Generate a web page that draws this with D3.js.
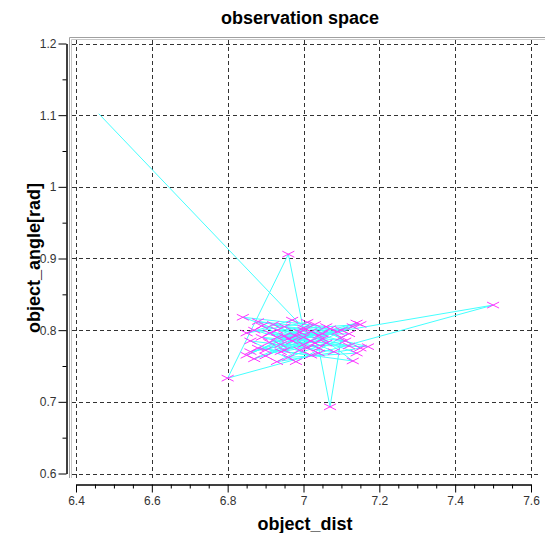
<!DOCTYPE html>
<html>
<head>
<meta charset="utf-8">
<script src="https://cdn.jsdelivr.net/npm/d3@7"></script>
<style>
  body { margin: 0; background: #fff; }
  svg text { font-family: "Liberation Sans", Arial, sans-serif; }
</style>
</head>
<body>
<svg id="chart" width="545" height="533"></svg>
<script>
// trajectory through observation space (first point has no marker)
var objectDist = [6.46, 7.00, 6.93, 7.05, 6.88, 7.10, 6.95, 7.14, 6.86, 7.02,
	6.91, 7.04, 7.07, 7.10, 6.97, 6.85, 7.01, 7.15, 6.93, 6.99,
	7.13, 6.87, 7.00, 7.50, 6.80, 6.96, 7.00, 6.90, 7.06, 6.84,
	7.03, 6.95, 7.12, 6.98, 6.86, 7.08, 6.92, 7.17, 6.94, 7.02,
	6.88, 7.13, 7.04, 6.93, 7.15, 6.97, 7.01, 6.89, 7.06, 6.96,
	7.14, 6.99, 6.85, 7.03, 6.91, 7.09, 6.95, 7.00, 6.87, 7.05,
	6.94, 7.11, 6.98, 7.02, 6.90, 7.07, 6.96, 7.12, 6.89, 7.04];
var objectAngle = [1.102, 0.803, 0.790, 0.795, 0.812, 0.800, 0.772, 0.810, 0.770, 0.785,
	0.796, 0.775, 0.693, 0.790, 0.814, 0.796, 0.811, 0.775, 0.756, 0.772,
	0.805, 0.760, 0.790, 0.835, 0.733, 0.906, 0.800, 0.772, 0.805, 0.818,
	0.782, 0.792, 0.795, 0.756, 0.785, 0.770, 0.808, 0.777, 0.780, 0.765,
	0.775, 0.757, 0.793, 0.800, 0.808, 0.785, 0.775, 0.790, 0.782, 0.762,
	0.768, 0.797, 0.765, 0.808, 0.783, 0.798, 0.805, 0.780, 0.800, 0.788,
	0.770, 0.785, 0.792, 0.798, 0.764, 0.802, 0.788, 0.778, 0.806, 0.768];

var xTicks = [6.4, 6.6, 6.8, 7, 7.2, 7.4, 7.6];
var yTicks = [0.6, 0.7, 0.8, 0.9, 1, 1.1, 1.2];

var svg = d3.select('#chart');

var x = d3.scaleLinear().domain([6.4, 7.6]).range([76, 531]);
var y = d3.scaleLinear().domain([0.6, 1.2]).range([473.5, 43.5]);

var plot = {left: 72, right: 541, top: 40, bottom: 478};
var fmt = function(d) { return String(+d.toFixed(2)); };

// grid
var grid = svg.append('g').attr('stroke', '#333').attr('stroke-width', 1)
	.attr('stroke-dasharray', '4,3');
grid.selectAll('.vg').data(xTicks).enter().append('line')
	.attr('x1', function(d) { return Math.round(x(d)) + 0.5; })
	.attr('x2', function(d) { return Math.round(x(d)) + 0.5; })
	.attr('y1', plot.top).attr('y2', plot.bottom);
grid.selectAll('.hg').data(yTicks).enter().append('line')
	.attr('y1', function(d) { return Math.round(y(d)) + 0.5; })
	.attr('y2', function(d) { return Math.round(y(d)) + 0.5; })
	.attr('x1', plot.left).attr('x2', plot.right);

// gray frame on the left and top
var frame = svg.append('g').attr('stroke', '#a0a0a0').attr('stroke-width', 1).attr('fill', 'none');
frame.append('path').attr('d', 'M69.5,478V37.5H545');
frame.append('path').attr('d', 'M71.5,478V39.5H545').attr('stroke', '#c8c8c8');

// data line
var pts = objectDist.map(function(d, i) { return [x(d), y(objectAngle[i])]; });
svg.append('path')
	.attr('d', d3.line()(pts))
	.attr('fill', 'none')
	.attr('stroke', '#44ffff')
	.attr('stroke-width', 1);

// markers
svg.append('g').selectAll('path').data(pts.slice(1)).enter().append('path')
	.attr('d', function(p) {
		return 'M' + (p[0] - 6) + ',' + (p[1] - 3) + 'L' + (p[0] + 6) + ',' + (p[1] + 3)
			+ 'M' + (p[0] - 6) + ',' + (p[1] + 3) + 'L' + (p[0] + 6) + ',' + (p[1] - 3);
	})
	.attr('stroke', '#ff33ff')
	.attr('stroke-width', 1)
	.attr('fill', 'none');

// y axis
var yAxis = svg.append('g').attr('transform', 'translate(66.5,0)')
	.call(d3.axisLeft(y).tickValues(yTicks).tickFormat(fmt).tickSize(8).tickSizeOuter(0));
svg.append('g').attr('transform', 'translate(66.5,0)')
	.call(d3.axisLeft(y).tickValues([0.65, 0.75, 0.85, 0.95, 1.05, 1.15]).tickFormat('').tickSize(4).tickSizeOuter(0));

// x axis
var xAxis = svg.append('g').attr('transform', 'translate(0,484.5)')
	.call(d3.axisBottom(x).tickValues(xTicks).tickFormat(fmt).tickSize(8).tickSizeOuter(0));
var minorX = d3.range(6.45, 7.6, 0.05).filter(function(d) { return Math.abs(Math.round(d * 5) - d * 5) > 0.01; });
svg.append('g').attr('transform', 'translate(0,484.5)')
	.call(d3.axisBottom(x).tickValues(minorX).tickFormat('').tickSize(4).tickSizeOuter(0));

svg.selectAll('.domain, .tick line').attr('stroke', '#000');
svg.selectAll('.tick text').attr('font-size', 12).attr('fill', '#333')
	.attr('font-family', '"Liberation Sans", Arial, sans-serif');
yAxis.selectAll('.tick text').attr('x', -10);
xAxis.selectAll('.tick text').attr('y', 12);

// titles
svg.append('text').attr('x', 300).attr('y', 24).attr('text-anchor', 'middle')
	.attr('font-size', 18).attr('font-weight', 'bold').text('observation space');
svg.append('text').attr('x', 305).attr('y', 530).attr('text-anchor', 'middle')
	.attr('font-size', 18).attr('font-weight', 'bold').text('object_dist');
svg.append('text').attr('transform', 'translate(40,258) rotate(-90)').attr('text-anchor', 'middle')
	.attr('font-size', 18).attr('font-weight', 'bold').text('object_angle[rad]');
</script>
</body>
</html>
